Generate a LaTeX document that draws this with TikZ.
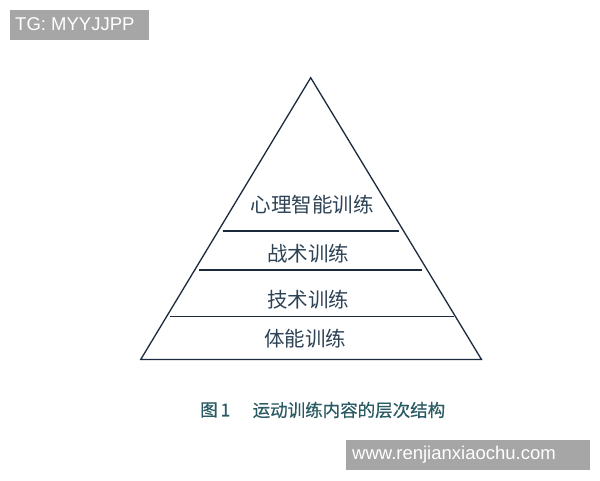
\documentclass[tikz,border=0pt]{standalone}
\usepackage{fontspec}
\setmainfont{Liberation Sans}
\newfontfamily\cjk{Noto Sans CJK SC}
\newfontfamily\cjkcap[FakeBold=0.5]{Noto Sans CJK SC}
\definecolor{edge}{HTML}{1B2A3C}
\definecolor{lbl}{HTML}{2E4356}
\definecolor{cap}{HTML}{2A5A63}
\definecolor{wm}{HTML}{A6A6A6}
\begin{document}
\begin{tikzpicture}[x=1pt,y=-1pt,
  lvl/.style={font=\cjk\fontsize{20.5}{22}\selectfont, text=lbl, inner sep=0pt},
  sep/.style={draw=edge, line width=1.8pt},
  wmbox/.style={fill=wm, text=white, inner sep=0pt, font=\fontsize{18}{20}\selectfont}]
\useasboundingbox (0,0) rectangle (600,480);
\fill[white] (0,0) rectangle (600,480);
% pyramid
\coordinate (apex) at (310.7,77.7);
\coordinate (bl) at (140.7,359.5);
\coordinate (br) at (481.5,359.5);
\draw[edge, line width=1.3pt, line join=miter] (bl) -- (apex) -- (br) -- cycle;
\draw[edge, line width=1.8pt] (bl) -- (br);
% separators
\coordinate (s1l) at (222.5,231); \coordinate (s1r) at (398.7,231);
\coordinate (s2l) at (199,270); \coordinate (s2r) at (422,270);
\coordinate (s3l) at (169.5,316.5); \coordinate (s3r) at (454,316.5);
\draw[sep] (s1l) -- (s1r);
\draw[sep] (s2l) -- (s2r);
\draw[sep] (s3l) -- (s3r);
% labels
\node[lvl] (l4) at (312,205) {心理智能训练};
\node[lvl] (l3) at (308,254) {战术训练};
\node[lvl] (l2) at (308,300) {技术训练};
\node[lvl] (l1) at (305,339) {体能训练};
% caption
\node[anchor=west, inner sep=0pt, text=cap, font=\cjkcap\fontsize{17.5}{19}\selectfont] (capnum) at (200,410) {图\,1};
\node[anchor=west, inner sep=0pt, text=cap, font=\cjkcap\fontsize{17.5}{19}\selectfont] (captxt) at (252.5,410) {运动训练内容的层次结构};
% watermarks
\fill[wm] (10,10) rectangle (148.5,39.5);
\node[anchor=west, inner sep=0pt, text=white, font=\fontsize{18.5}{20}\selectfont] (tg) at (15,24.5) {TG: MYYJJPP};
\fill[wm] (346,440) rectangle (590,470);
\node[anchor=west, inner sep=0pt, text=white, font=\fontsize{18.5}{20}\selectfont] (www) at (352,455) {www.renjianxiaochu.com};
\end{tikzpicture}
\end{document}
